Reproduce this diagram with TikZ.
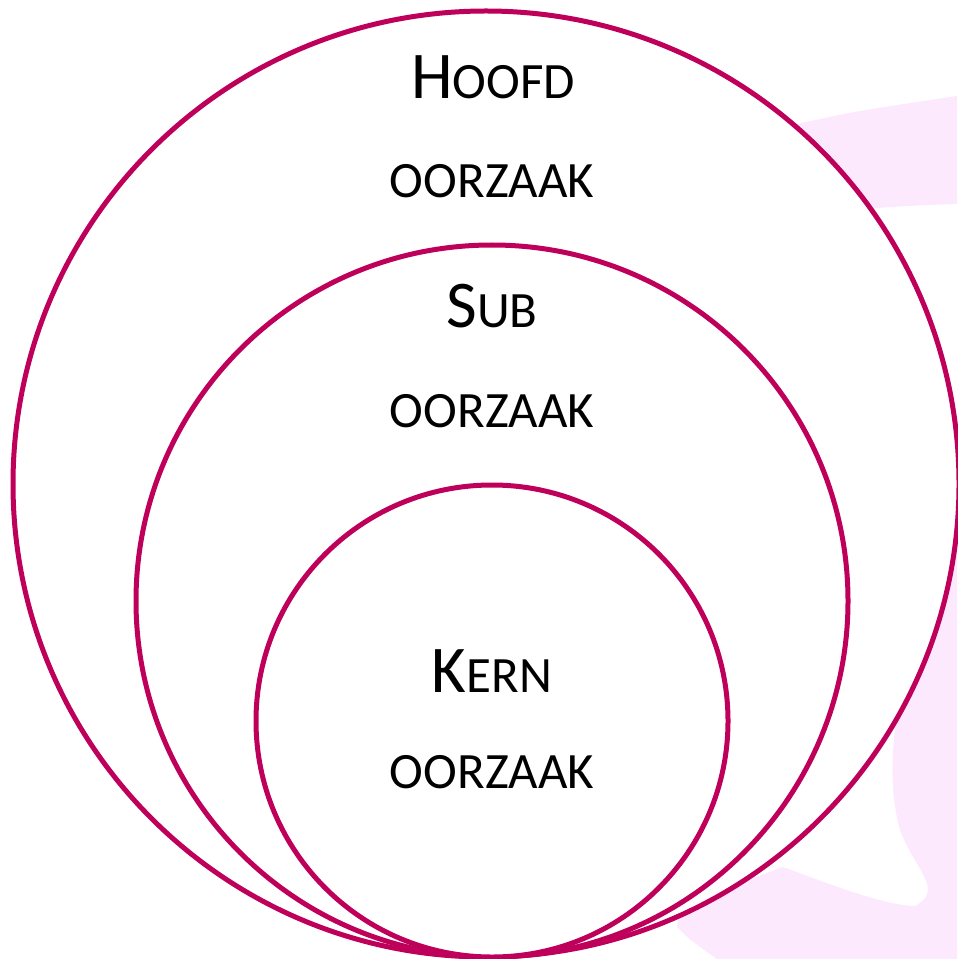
\documentclass[tikz,border=0pt]{standalone}
\usepackage{fontspec}
\setmainfont{Carlito}
\usepackage{xcolor}
\definecolor{rand}{RGB}{190,0,90}
\definecolor{roze}{RGB}{253,233,253}
\newcommand{\groot}{\fontsize{38}{40}\selectfont}
\newcommand{\klein}{\fontsize{29}{32}\selectfont}

\begin{document}
\begin{tikzpicture}[%
  x=0.02cm, y=-0.02cm,
  ring/.style={draw=rand, line width=0.1cm, fill=white},
  tekst/.style={anchor=base, font=\klein, inner sep=0pt}]
  \useasboundingbox (0,0) rectangle (957,959);
  % roze achtergrond rechts
  \fill[roze] (780,128) .. controls (850,112) .. (957,96) -- (957,204)
    .. controls (900,206) .. (780,216) -- cycle;
  \fill[roze] (957,540) .. controls (900,650) and (880,760) .. (900,830)
    .. controls (915,870) and (945,890) .. (915,906)
    .. controls (880,905) and (820,880) .. (783,867)
    -- (680,905) -- (677,927) .. controls (690,940) .. (717,959)
    -- (957,959) -- cycle;
  % cirkels
  \coordinate (buitenM) at (486,484);
  \coordinate (midM) at (492,601);
  \coordinate (kernM) at (492,721);
  \draw[ring] (buitenM) circle[radius=473];
  \draw[ring] (midM) circle[radius=356];
  \draw[ring] (kernM) circle[radius=236];
  % teksten
  \node[tekst] (hoofd) at (493,99) {{\groot H}OOFD};
  \node[tekst] (hoofdoorzaak) at (492,198) {OORZAAK};
  \node[tekst] (sub) at (492,327) {{\groot S}UB};
  \node[tekst] (suboorzaak) at (492,427) {OORZAAK};
  \node[tekst] (kern) at (492,692) {{\groot K}ERN};
  \node[tekst] (kernoorzaak) at (492,788) {OORZAAK};
\end{tikzpicture}
\end{document}
